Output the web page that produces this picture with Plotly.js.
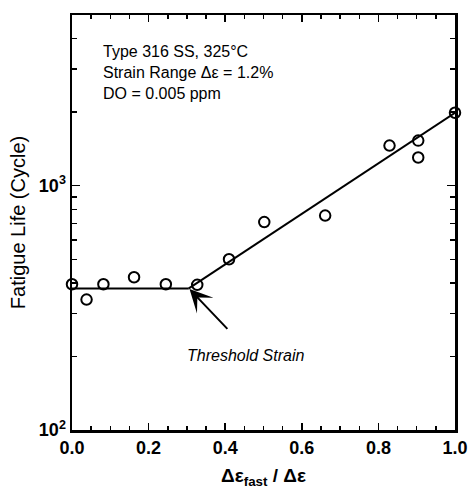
<!DOCTYPE html>
<html>
<head>
<meta charset="utf-8">
<script src="https://cdn.plot.ly/plotly-3.0.1.min.js"></script>
<style>html,body{margin:0;padding:0;background:#fff;}#chart{width:471px;height:489px;}</style>
</head>
<body>
<div id="chart"></div>
<script>
// Measured fatigue life vs fraction of fast strain
const strainFraction = [0, 0.038, 0.082, 0.162, 0.245, 0.327, 0.41, 0.502, 0.661, 0.829, 0.904, 0.904, 1.0];
const fatigueLife = [395, 342, 395, 422, 395, 393, 500, 710, 755, 1460, 1530, 1305, 1990];

// Fitted trend lines
const flatFitX = [0, 0.305];
const flatFitY = [380, 380];
const riseFitX = [0.305, 1.0];
const riseFitY = [380, 1990];

// Axis ticks
const yMajorVals = [100, 1000];
const yMajorText = ['10<sup>2</sup>', '10<sup>3</sup>'];
const yMinorVals = [200, 300, 400, 500, 600, 700, 800, 900, 2000, 3000, 4000];

// Annotations
const infoLines = ['Type 316 SS, 325°C', 'Strain Range Δε = 1.2%', 'DO = 0.005 ppm'];
const thresholdLabel = 'Threshold Strain';
const thresholdPoint = [0.305, 380];
const thresholdLabelPos = [0.452, 202];

const font = 'Arial, "Liberation Sans", Helvetica, sans-serif';

const traces = [
  {x: flatFitX, y: flatFitY, mode: 'lines', line: {color: '#000', width: 2}, hoverinfo: 'skip'},
  {x: riseFitX, y: riseFitY, mode: 'lines', line: {color: '#000', width: 2}, hoverinfo: 'skip'},
  {x: strainFraction, y: fatigueLife, mode: 'markers', cliponaxis: false,
   marker: {symbol: 'circle-open', size: 10.5, color: '#000', line: {width: 2, color: '#000'}}}
];

const layout = {
  width: 471, height: 489,
  margin: {l: 72, r: 16, t: 15, b: 59},
  paper_bgcolor: '#fff', plot_bgcolor: '#fff',
  showlegend: false,
  font: {family: font, color: '#000'},
  xaxis: {
    range: [0, 1], dtick: 0.2, tick0: 0, tickformat: '.1f',
    ticks: 'inside', ticklen: 7, tickwidth: 1.5, tickcolor: '#000',
    showline: true, linewidth: 2.5, linecolor: '#000', mirror: 'allticks',
    showgrid: false, zeroline: false,
    minor: {dtick: 0.05, ticks: 'inside', ticklen: 4, tickwidth: 1.5, tickcolor: '#000'},
    tickfont: {family: font, size: 18, weight: 'bold'},
    title: {text: 'Δε<sub>fast</sub> / Δε', font: {family: font, size: 19, weight: 'bold'}, standoff: 13}
  },
  yaxis: {
    type: 'log', range: [2, Math.log10(5000)],
    tickmode: 'array', tickvals: yMajorVals, ticktext: yMajorText,
    ticks: 'inside', ticklen: 8, tickwidth: 1.5, tickcolor: '#000',
    showline: true, linewidth: 2.5, linecolor: '#000', mirror: 'allticks',
    showgrid: false, zeroline: false,
    minor: {tickmode: 'array', tickvals: yMinorVals, ticks: 'inside', ticklen: 5, tickwidth: 1.5, tickcolor: '#000'},
    tickfont: {family: font, size: 18, weight: 'bold'},
    title: {text: 'Fatigue Life (Cycle)', font: {family: font, size: 20}, standoff: 8}
  },
  annotations: [
    {xref: 'paper', yref: 'paper', x: 0.078, y: 0.935, xanchor: 'left', yanchor: 'top',
     align: 'left', showarrow: false, borderpad: 0,
     text: infoLines.join('<br>'), font: {family: font, size: 16, color: '#000'}},
    {x: thresholdLabelPos[0], y: Math.log10(thresholdLabelPos[1]), showarrow: false,
     text: '<i>' + thresholdLabel + '</i>', font: {family: font, size: 16, color: '#000'}},
    {x: thresholdPoint[0], y: Math.log10(thresholdPoint[1]), text: '', showarrow: true,
     ax: 40, ay: 42, arrowhead: 3, arrowsize: 1.9, arrowwidth: 2, arrowcolor: '#000', standoff: 1}
  ]
};

Plotly.newPlot('chart', traces, layout, {displayModeBar: false, staticPlot: true});
</script>
</body>
</html>
